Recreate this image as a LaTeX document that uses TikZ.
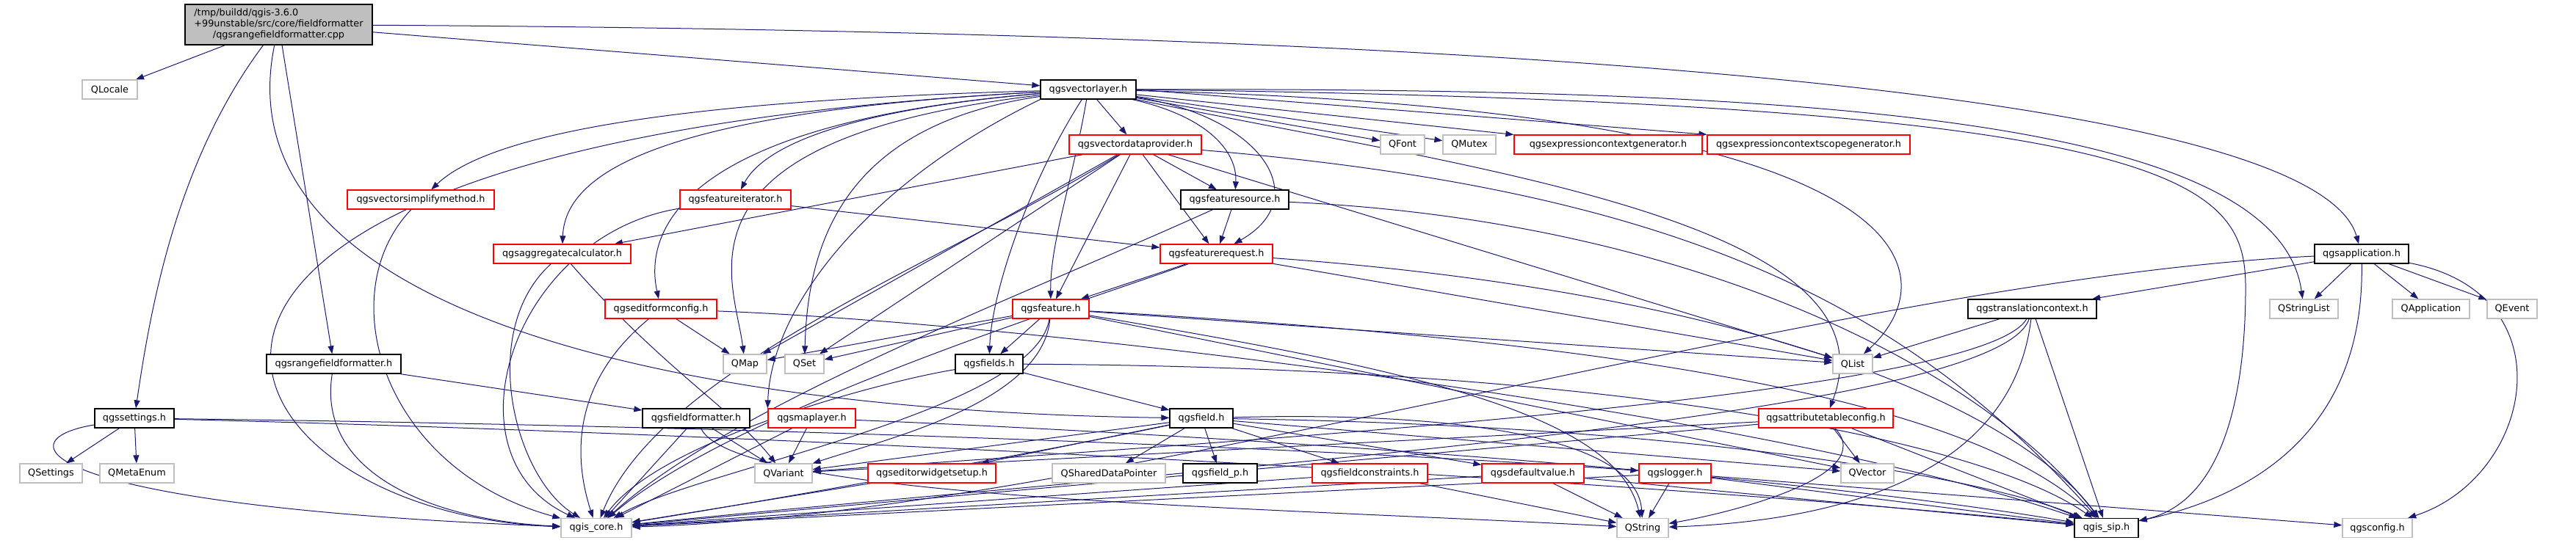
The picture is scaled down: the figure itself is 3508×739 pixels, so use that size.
\documentclass[tikz,border=0pt]{standalone}
\usepackage{fontspec}
\setmainfont{DejaVu Sans}
\usetikzlibrary{arrows.meta}
\definecolor{edgecol}{HTML}{191970}
\definecolor{greyb}{HTML}{BFBFBF}
\definecolor{redb}{HTML}{FF0000}
\pgfdeclarelayer{background}
\pgfsetlayers{background,main}
\begin{document}
\begin{tikzpicture}[x=1pt,y=-1pt,
  nd/.style={rectangle,fill=white,line width=1.3pt,minimum height=26pt,inner xsep=2pt,inner ysep=1pt,
    font=\fontsize{12.8pt}{15pt}\selectfont},
  blk/.style={nd,draw=black},
  rd/.style={nd,draw=redb},
  gr/.style={nd,draw=greyb},
  e/.style={draw=edgecol,line width=1pt,-{Triangle[length=11pt,width=8pt,fill=edgecol]}}]
\useasboundingbox (0,0) rectangle (3508,739);
% nodes
\node[blk,fill=greyb,minimum width=255pt,minimum height=55pt] (M) at (379.5,33.5)
  {\begin{tabular}{@{}c@{}}\multicolumn{1}{@{}l@{}}{/tmp/buildd/qgis-3.6.0}\\+99unstable/src/core/fieldformatter\\/qgsrangefieldformatter.cpp\end{tabular}};
\node[gr,minimum width=75pt] (qlocale) at (149.5,122) {QLocale};
\node[blk,minimum width=130pt] (vl) at (1482,122) {qgsvectorlayer.h};
\node[blk,minimum width=128pt] (app) at (3216,346) {qgsapplication.h};
\node[rd,minimum width=200pt] (vsm) at (573,272) {qgsvectorsimplifymethod.h};
\node[rd,minimum width=151pt] (fi) at (1001.5,272) {qgsfeatureiterator.h};
\node[rd,minimum width=187pt] (ac) at (765.5,346) {qgsaggregatecalculator.h};
\node[rd,minimum width=180pt] (vdp) at (1546,197) {qgsvectordataprovider.h};
\node[gr,minimum width=60pt] (qfont) at (1910,197) {QFont};
\node[gr,minimum width=72pt] (qmutex) at (2001,197) {QMutex};
\node[rd,minimum width=256pt] (ecg) at (2190,197) {qgsexpressioncontextgenerator.h};
\node[rd,minimum width=276pt] (ecsg) at (2463,197) {qgsexpressioncontextscopegenerator.h};
\node[blk,minimum width=147pt] (fs) at (1681.5,272) {qgsfeaturesource.h};
\node[rd,minimum width=153pt] (fr) at (1656.5,346) {qgsfeaturerequest.h};
\node[rd,minimum width=152pt] (efc) at (900,421) {qgseditformconfig.h};
\node[blk,minimum width=183pt] (rff) at (454.5,496) {qgsrangefieldformatter.h};
\node[gr,minimum width=59pt] (qmap) at (1014.5,496) {QMap};
\node[gr,minimum width=53pt] (qset) at (1095.5,496) {QSet};
\node[blk,minimum width=108pt] (sett) at (183,570) {qgssettings.h};
\node[blk,minimum width=146pt] (ff) at (948,570) {qgsfieldformatter.h};
\node[rd,minimum width=119pt] (ml) at (1105.5,570) {qgsmaplayer.h};
\node[gr,minimum width=85pt] (qsettings) at (69.5,645) {QSettings};
\node[gr,minimum width=101pt] (qmetaenum) at (186.5,645) {QMetaEnum};
\node[gr,minimum width=78pt] (qvariant) at (1067,645) {QVariant};
\node[gr,minimum width=96pt] (core) at (812,719.5) {qgis\_core.h};
\node[rd,minimum width=104pt] (feat) at (1431,421) {qgsfeature.h};
\node[blk,minimum width=92pt] (fields) at (1347,496) {qgsfields.h};
\node[blk,minimum width=86pt] (field) at (1636,570) {qgsfield.h};
\node[rd,minimum width=174pt] (ews) at (1269,645) {qgseditorwidgetsetup.h};
\node[gr,minimum width=154pt] (qsdp) at (1510,645) {QSharedDataPointer};
\node[blk,minimum width=101pt] (fieldp) at (1661.5,645) {qgsfield\_p.h};
\node[rd,minimum width=157pt] (fc) at (1865.5,645) {qgsfieldconstraints.h};
\node[rd,minimum width=139pt] (dv) at (2087.5,645) {qgsdefaultvalue.h};
\node[rd,minimum width=98pt] (logger) at (2281,645) {qgslogger.h};
\node[gr,minimum width=70pt] (qstring) at (2237,719.5) {QString};
\node[blk,minimum width=175pt] (tc) at (2767.5,421) {qgstranslationcontext.h};
\node[gr,minimum width=93pt] (qstringlist) at (3137.5,421) {QStringList};
\node[gr,minimum width=105pt] (qapplication) at (3310.5,421) {QApplication};
\node[gr,minimum width=68pt] (qevent) at (3421,421) {QEvent};
\node[gr,minimum width=54pt] (qlist) at (2523,496) {QList};
\node[rd,minimum width=183pt] (atc) at (2486.5,570) {qgsattributetableconfig.h};
\node[gr,minimum width=72pt] (qvector) at (2543,645) {QVector};
\node[blk,minimum width=87pt] (sip) at (2868.5,719.5) {qgis\_sip.h};
\node[gr,minimum width=95pt] (conf) at (3237.5,719.5) {qgsconfig.h};

\begin{pgfonlayer}{background}
% main
\draw[e] (M) -- (qlocale);
\draw[e] (M) -- (vl);
\draw[e] (M) .. controls (2300,45) and (3160,150) .. (app);
\draw[e] (M) .. controls (240,220) and (205,420) .. (sett);
\draw[e] (M) -- (rff);
\draw[e] (M) .. controls (300,420) and (900,560) .. (field);
% vectorlayer
\draw[e] (vl) .. controls (1000,135) and (680,170) .. (vsm);
\draw[e] (vl) .. controls (1150,150) and (1040,200) .. (fi);
\draw[e] (vl) .. controls (950,150) and (770,220) .. (ac);
\draw[e] (vl) .. controls (900,170) and (880,330) .. (efc);
\draw[e] (vl) .. controls (900,190) and (1000,380) .. (qmap);
\draw[e] (vl) .. controls (1150,170) and (1100,330) .. (qset);
\draw[e] (vl.south west) .. controls (1180,250) and (1050,420) .. (ml.north west);
\draw[e] (vl) .. controls (0,200) and (280,700) .. (core);
\draw[e] (vl) -- (vdp);
\draw[e] (vl) .. controls (1650,160) and (1685,210) .. (fs);
\draw[e] (vl) .. controls (1720,160) and (1790,270) .. (fr);
\draw[e] (vl) .. controls (1460,250) and (1430,330) .. (feat);
\draw[e] (vl) .. controls (1400,250) and (1350,400) .. (fields);
\draw[e] (vl) -- (qfont);
\draw[e] (vl) -- (qmutex);
\draw[e] (vl) -- (ecg);
\draw[e] (vl.east) -- (ecsg.north west);
\draw[e] (vl) .. controls (2650,150) and (2650,380) .. (qlist);
\draw[e] (vl) .. controls (2400,120) and (3100,150) .. (qstringlist);
\draw[e] (vl.east) .. controls (3000,140) and (3060,250) .. (3058,400) .. controls (3056,600) and (3000,690) .. (sip);
\draw[e] (vl) .. controls (2000,230) and (2590,300) .. (atc);
% vectordataprovider
\draw[e] (vdp) -- (fs);
\draw[e] (vdp) -- (fr);
\draw[e] (vdp) -- (feat);
\draw[e] (vdp) -- (ac);
\draw[e] (vdp) -- (qmap);
\draw[e] (vdp) -- (qset);
\draw[e] (vdp) .. controls (1300,350) and (900,500) .. (core);
\draw[e] (vdp) -- (qlist);
\draw[e] (vdp) .. controls (2300,260) and (2600,420) .. (sip);
% featuresource
\draw[e] (fs) -- (fr);
\draw[e] (fs) .. controls (1400,400) and (1000,550) .. (core);
\draw[e] (fs) .. controls (2300,300) and (2700,500) .. (sip);
% featurerequest
\draw[e] (fr) -- (feat);
\draw[e] (fr) -- (qlist);
\draw[e] (fr) .. controls (2400,400) and (2750,560) .. (sip);
\draw[e] (fr) .. controls (1450,420) and (1000,560) .. (core);
% feature
\draw[e] (feat) -- (fields);
\draw[e] (feat) -- (qmap);
\draw[e] (feat) -- (qset);
\draw[e] (feat) .. controls (1410,560) and (950,640) .. (core);
\draw[e] (feat) .. controls (1420,550) and (1200,600) .. (qvariant);
\draw[e] (feat) -- (qlist);
\draw[e] (feat) .. controls (2300,470) and (2700,560) .. (sip);
\draw[e] (feat) -- (qvector);
\draw[e] (feat) .. controls (1900,500) and (2200,560) .. (qstring);
% fields
\draw[e] (fields) -- (field);
\draw[e] (fields) .. controls (1200,520) and (900,600) .. (core);
\draw[e] (fields) .. controls (2200,500) and (2700,600) .. (sip);
% field
\draw[e] (field) -- (ews);
\draw[e] (field) -- (qsdp);
\draw[e] (field) -- (fieldp);
\draw[e] (field) -- (fc);
\draw[e] (field) -- (dv);
\draw[e] (field) .. controls (2000,560) and (2230,600) .. (qstring);
\draw[e] (field) -- (qvariant);
\draw[e] (field) .. controls (1400,620) and (1000,690) .. (core);
\draw[e] (field) .. controls (2300,580) and (2700,650) .. (sip);
\draw[e] (field) -- (qvector);
% rangefieldformatter
\draw[e] (rff) -- (ff);
\draw[e] (rff) .. controls (430,650) and (600,710) .. (core);
% fieldformatter
\draw[e] (ff) -- (core);
\draw[e] (ff) -- (qvariant);
\draw[e] (ff) .. controls (1000,680) and (1700,690) .. (qstring);
% maplayer
\draw[e] (ml) -- (core);
\draw[e] (ml) -- (qvariant);
\draw[e] (ml) .. controls (1600,590) and (2400,640) .. (sip);
% settings
\draw[e] (sett) -- (qsettings);
\draw[e] (sett) -- (qmetaenum);
\draw[e] (sett) .. controls (0,600) and (50,690) .. (core);
\draw[e] (sett) .. controls (1000,580) and (1800,610) .. (logger);
\draw[e] (sett) .. controls (1000,590) and (2200,650) .. (sip);
% editformconfig
\draw[e] (efc) -- (qmap);
\draw[e] (efc) .. controls (780,520) and (780,620) .. (core);
\draw[e] (efc) .. controls (1400,440) and (2400,560) .. (sip);
% aggregatecalculator
\draw[e] (ac) .. controls (650,450) and (700,650) .. (core);
\draw[e] (ac) .. controls (900,500) and (1000,560) .. (qvariant);
% others
\draw[e] (vsm) .. controls (450,400) and (520,640) .. (core);
\draw[e] (fi) -- (fr);
\draw[e] (fi) .. controls (700,320) and (600,620) .. (core);
\draw[e] (ews) -- (core);
\draw[e] (fc) -- (core);
\draw[e] (fc) -- (qstring);
\draw[e] (dv) -- (core);
\draw[e] (dv) -- (qstring);
\draw[e] (dv) -- (sip);
\draw[e] (logger) -- (qstring);
\draw[e] (logger) -- (core);
\draw[e] (logger) -- (conf);
\draw[e] (logger) -- (sip);
\draw[e] (atc) -- (qvector);
\draw[e] (atc) -- (sip);
\draw[e] (atc) -- (core);
\draw[e] (atc) -- (qvariant);
\draw[e] (atc) .. controls (2560,650) and (2350,700) .. (qstring);
\draw[e] (tc) -- (qlist);
\draw[e] (tc) -- (sip);
\draw[e] (tc) .. controls (2740,650) and (2500,710) .. (qstring);
\draw[e] (tc) .. controls (2720,570) and (1600,640) .. (core);
\draw[e] (tc) .. controls (2700,540) and (1700,600) .. (qvariant);
% application
\draw[e] (app) -- (qstringlist);
\draw[e] (app) -- (qapplication);
\draw[e] (app) -- (qevent);
\draw[e] (app) .. controls (3500,400) and (3450,650) .. (conf);
\draw[e] (app) .. controls (3220,600) and (3050,680) .. (sip);
\draw[e] (app) -- (tc);
\draw[e] (app) .. controls (2500,380) and (1500,700) .. (core);
\end{pgfonlayer}
\end{tikzpicture}
\end{document}
